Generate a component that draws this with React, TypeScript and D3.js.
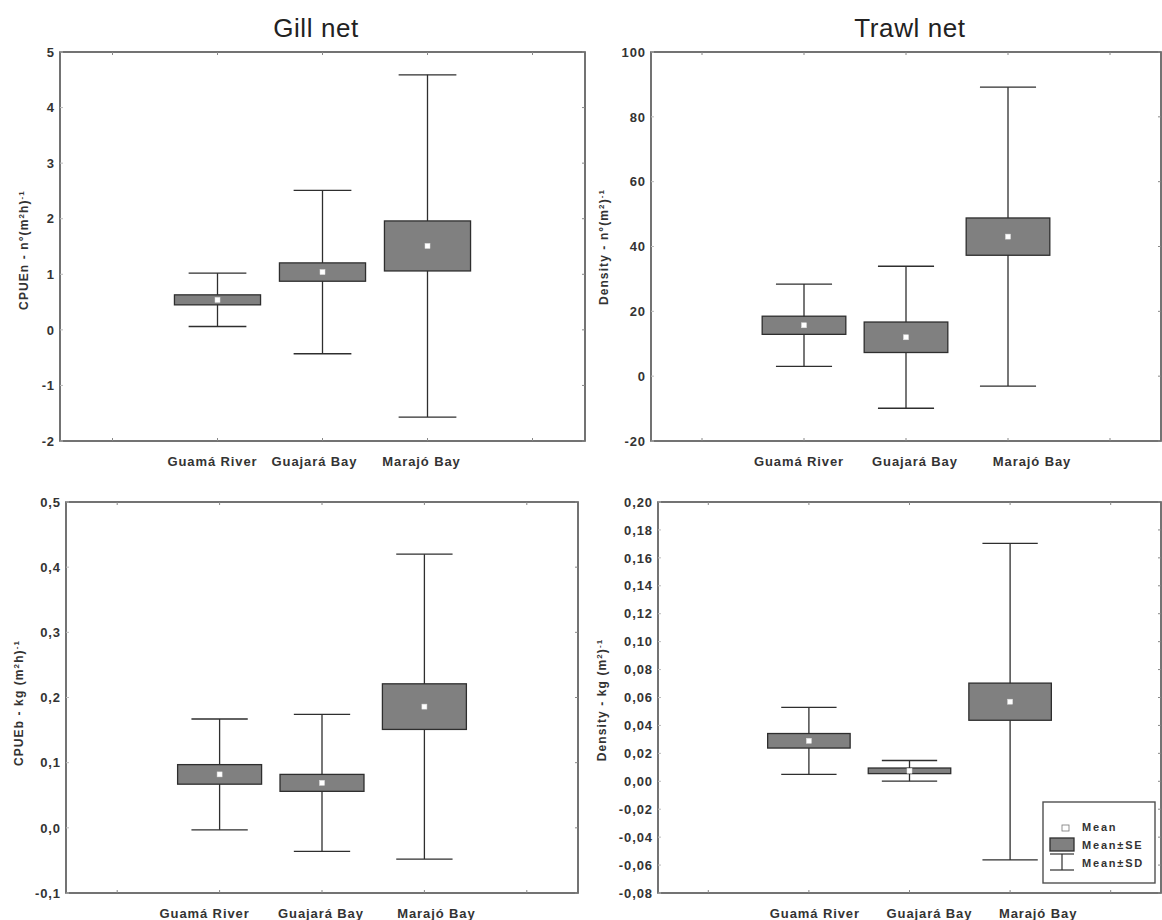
import React from "react";
import * as d3 from "d3";

const categories = ["Guamá River", "Guajará Bay", "Marajó Bay"];

// Gill net – CPUEn
const gillNMean = [0.54, 1.04, 1.51];
const gillNSE = [0.09, 0.165, 0.45];
const gillNSD = [0.48, 1.47, 3.08];
// Trawl net – Density n
const trawlNMean = [15.7, 12.0, 43.05];
const trawlNSE = [2.8, 4.7, 5.75];
const trawlNSD = [12.7, 21.9, 46.1];
// Gill net – CPUEb
const gillBMean = [0.082, 0.069, 0.186];
const gillBSE = [0.015, 0.013, 0.035];
const gillBSD = [0.085, 0.105, 0.234];
// Trawl net – Density kg
const trawlBMean = [0.029, 0.0075, 0.057];
const trawlBSE = [0.0052, 0.002, 0.0133];
const trawlBSD = [0.024, 0.0074, 0.1133];

const titles = ["Gill net", "Trawl net"];
const legendLabels = ["Mean", "Mean±SE", "Mean±SD"];

type Panel = {
  left: number; right: number; top: number; bottom: number;
  domain: [number, number]; step: number; decimals: number;
  mean: number[]; se: number[]; sd: number[];
  ylabel: React.ReactNode; ylabelX: number; ylabelY: number;
  labelDx: number[];
  legend?: boolean;
};

const FONT = "'Liberation Sans', Arial, sans-serif";
const FRAME = "#505050";
const DARK = "#2e2e2e";
const TEXT = "#333";

function fmt(v: number, dec: number) {
  return v.toFixed(dec).replace(".", ",");
}

function PanelView({ p }: { p: Panel }) {
  const y = d3.scaleLinear().domain(p.domain).range([p.bottom, p.top]);
  const x = d3.scaleBand().domain(["_l", ...categories, "_r"]).range([p.left, p.right]);
  const bw = x.bandwidth();
  const n = Math.round((p.domain[1] - p.domain[0]) / p.step);
  const ticks = d3.range(n + 1).map((i) => p.domain[0] + i * p.step);
  const xTicks = x.domain().map((d) => (x(d) as number) + bw / 2);
  const boxW = bw * 0.82;
  const capW = bw * 0.55;
  return (
    <g>
      <rect x={p.left} y={p.top} width={p.right - p.left} height={p.bottom - p.top} fill="white" stroke={FRAME} strokeWidth={1.6} />
      {ticks.map((t, i) => (
        <g key={i}>
          <line x1={p.left} x2={p.left + 3} y1={y(t)} y2={y(t)} stroke="#bbb" />
          <line x1={p.right - 3} x2={p.right} y1={y(t)} y2={y(t)} stroke="#888" />
          <text x={p.left - 5} y={y(t)} dy="0.36em" textAnchor="end" fontFamily={FONT} fontWeight="bold" fontSize={13} letterSpacing={0.9} fill={TEXT}>
            {p.decimals === 0 ? String(t) : fmt(t, p.decimals)}
          </text>
        </g>
      ))}
      {xTicks.map((tx, i) => (
        <g key={i}>
          <line x1={tx} x2={tx} y1={p.top} y2={p.top + 3} stroke="#888" />
          <line x1={tx} x2={tx} y1={p.bottom} y2={p.bottom - 3} stroke="#888" />
        </g>
      ))}
      {categories.map((c, i) => {
        const cx = (x(c) as number) + bw / 2;
        const m = p.mean[i];
        return (
          <g key={c}>
            <line x1={cx} x2={cx} y1={y(m + p.sd[i])} y2={y(m - p.sd[i])} stroke={DARK} strokeWidth={1.3} />
            <line x1={cx - capW / 2} x2={cx + capW / 2} y1={y(m + p.sd[i])} y2={y(m + p.sd[i])} stroke={DARK} strokeWidth={1.3} />
            <line x1={cx - capW / 2} x2={cx + capW / 2} y1={y(m - p.sd[i])} y2={y(m - p.sd[i])} stroke={DARK} strokeWidth={1.3} />
            <rect x={cx - boxW / 2} y={y(m + p.se[i])} width={boxW} height={y(m - p.se[i]) - y(m + p.se[i])} fill="#808080" stroke={DARK} strokeWidth={1.3} />
            <rect x={cx - 2.5} y={y(m) - 2.5} width={5} height={5} fill="white" stroke="#ddd" strokeWidth={0.5} />
            <text x={cx + p.labelDx[i]} y={p.bottom + 20} dy="0.36em" textAnchor="middle" fontFamily={FONT} fontWeight="bold" fontSize={13} letterSpacing={0.9} fill={TEXT}>
              {c}
            </text>
          </g>
        );
      })}
      <text transform={`translate(${p.ylabelX},${p.ylabelY}) rotate(-90)`} textAnchor="middle" dy="0.36em" fontFamily={FONT} fontWeight="bold" fontSize={12} letterSpacing={1.1} fill={TEXT}>
        {p.ylabel}
      </text>
      {p.legend && (
        <g>
          <rect x={p.right - 118} y={p.bottom - 91} width={112} height={81} fill="white" stroke={FRAME} strokeWidth={1.4} />
          <rect x={p.right - 99} y={p.bottom - 68} width={7} height={6} fill="white" stroke="#777" strokeWidth={0.8} />
          <rect x={p.right - 111} y={p.bottom - 55} width={24} height={13} fill="#808080" stroke={DARK} strokeWidth={1.3} />
          <line x1={p.right - 111} x2={p.right - 87} y1={p.bottom - 39} y2={p.bottom - 39} stroke={DARK} strokeWidth={1.2} />
          <line x1={p.right - 99} x2={p.right - 99} y1={p.bottom - 39} y2={p.bottom - 23} stroke={DARK} strokeWidth={1.2} />
          <line x1={p.right - 111} x2={p.right - 87} y1={p.bottom - 23} y2={p.bottom - 23} stroke={DARK} strokeWidth={1.2} />
          {legendLabels.map((l, i) => (
            <text key={l} x={p.right - 79} y={p.bottom - 66 + i * 18} dy="0.36em" fontFamily={FONT} fontWeight="bold" fontSize={11} letterSpacing={1.8} fill={TEXT}>
              {l}
            </text>
          ))}
        </g>
      )}
    </g>
  );
}

const sup = (s: string) => <tspan baselineShift="super" fontSize={8}>{s}</tspan>;

export default function App() {
  const panels: Panel[] = [
    {
      left: 60, right: 585, top: 52, bottom: 441, domain: [-2, 5], step: 1, decimals: 0,
      mean: gillNMean, se: gillNSE, sd: gillNSD,
      ylabel: <>CPUEn - n°(m{sup("2")}h){sup("-1")}</>, ylabelX: 24, ylabelY: 250,
      labelDx: [-5, -8, -6],
    },
    {
      left: 651, right: 1161, top: 52, bottom: 441, domain: [-20, 100], step: 20, decimals: 0,
      mean: trawlNMean, se: trawlNSE, sd: trawlNSD,
      ylabel: <>Density - n°(m{sup("2")}){sup("-1")}</>, ylabelX: 604, ylabelY: 247,
      labelDx: [-5, 9, 24],
    },
    {
      left: 66, right: 578, top: 502, bottom: 893, domain: [-0.1, 0.5], step: 0.1, decimals: 1,
      mean: gillBMean, se: gillBSE, sd: gillBSD,
      ylabel: <>CPUEb - kg (m{sup("2")}h){sup("-1")}</>, ylabelX: 19, ylabelY: 703,
      labelDx: [-15, -1, 12],
    },
    {
      left: 658, right: 1161, top: 502, bottom: 893, domain: [-0.08, 0.2], step: 0.02, decimals: 2,
      mean: trawlBMean, se: trawlBSE, sd: trawlBSD,
      ylabel: <>Density - kg (m{sup("2")}){sup("-1")}</>, ylabelX: 602, ylabelY: 700, legend: true,
      labelDx: [6, 20, 28],
    },
  ];
  return (
    <svg width={1162} height={920} style={{ position: "absolute", left: 0, top: 0, background: "white" }}>
      <rect width={1162} height={920} fill="white" />
      <text x={316} y={37} textAnchor="middle" fontFamily={FONT} fontSize={26} letterSpacing={0.6} fill="#222">{titles[0]}</text>
      <text x={910} y={37} textAnchor="middle" fontFamily={FONT} fontSize={26} letterSpacing={0.6} fill="#222">{titles[1]}</text>
      {panels.map((p, i) => <PanelView key={i} p={p} />)}
    </svg>
  );
}
